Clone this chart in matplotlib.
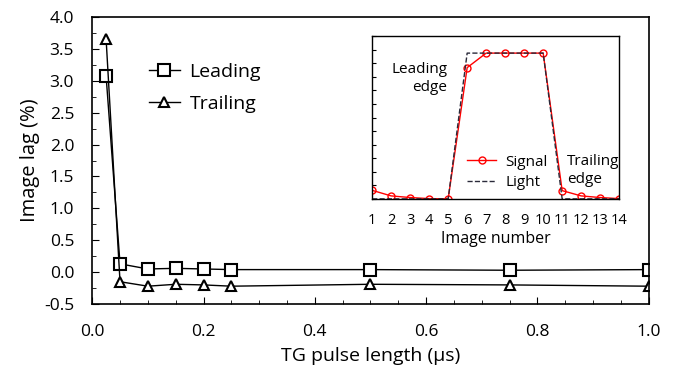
import matplotlib
matplotlib.use("Agg")
import matplotlib.pyplot as plt
from matplotlib.ticker import MultipleLocator

plt.rcParams['font.family'] = ['Open Sans', 'DejaVu Sans']

pulse_us = [0.025, 0.05, 0.1, 0.15, 0.2, 0.25, 0.5, 0.75, 1.0]
leading = [3.07, 0.13, 0.05, 0.06, 0.05, 0.04, 0.04, 0.03, 0.04]
trailing = [3.65, -0.15, -0.22, -0.19, -0.20, -0.22, -0.19, -0.20, -0.22]

image_num = list(range(1, 15))
signal = [0.063, 0.022, 0.010, 0.002, 0.0, 0.968, 1.075, 1.075, 1.075, 1.075, 0.061, 0.022, 0.010, 0.002]
light = [0, 0, 0, 0, 0, 1.075, 1.075, 1.075, 1.075, 1.075, 0, 0, 0, 0]

fig = plt.figure(figsize=(6.73, 3.69), dpi=100)
ax = fig.add_axes([0.137, 0.176, 0.827, 0.778])

ax.plot(pulse_us, leading, '-s', color='black', lw=1, ms=8, mfc='white', mec='black', mew=1.5, label='Leading')
ax.plot(pulse_us, trailing, '-^', color='black', lw=1, ms=7, mfc='white', mec='black', mew=1.5, label='Trailing')
ax.set_xlim(0, 1.0)
ax.set_ylim(-0.5, 4.0)
ax.xaxis.set_major_locator(MultipleLocator(0.2))
ax.xaxis.set_minor_locator(MultipleLocator(0.05))
ax.yaxis.set_major_locator(MultipleLocator(0.5))
ax.yaxis.set_minor_locator(MultipleLocator(0.25))
ax.xaxis.set_major_formatter(matplotlib.ticker.FormatStrFormatter('%.1f'))
ax.yaxis.set_major_formatter(matplotlib.ticker.FormatStrFormatter('%.1f'))
ax.tick_params(which='both', direction='in', labelsize=12.5, top=False, right=False)
ax.tick_params(which='major', length=5)
ax.tick_params(which='minor', length=3)
ax.tick_params(axis='x', pad=14.5)
ax.tick_params(axis='y', pad=13)
ax.set_xlabel('TG pulse length (μs)', fontsize=14, labelpad=5)
ax.set_ylabel('Image lag (%)', fontsize=14.5, labelpad=3)
for s in ax.spines.values():
    s.set_linewidth(1.2)
ax.legend(loc='upper left', bbox_to_anchor=(0.07, 0.9), frameon=False, fontsize=14,
          handlelength=1.6, handletextpad=0.5, labelspacing=0.7)

ins = fig.add_axes([0.553, 0.461, 0.367, 0.441])
ins.plot(image_num, signal, '-o', color='red', lw=1, ms=5, mfc='none', mec='red', mew=1, label='Signal')
ins.plot(image_num, light, '--', color='#2a2a3a', lw=1, label='Light')
ins.set_xlim(1, 14)
ins.set_ylim(0, 1.2)
ins.set_xticks(image_num)
ins.yaxis.set_major_locator(MultipleLocator(0.1))
ins.set_yticklabels([])
ins.tick_params(axis='y', direction='in', length=3)
ins.tick_params(axis='x', length=0, labelsize=10.5, pad=10)
ins.set_xlabel('Image number', fontsize=11.5, labelpad=2)
ins.text(4.95, 0.89, 'Leading\nedge', ha='right', va='center', fontsize=11, linespacing=1.3)
ins.text(11.26, 0.21, 'Trailing\nedge', ha='left', va='center', fontsize=11, linespacing=1.3)
ins.legend(loc='lower left', bbox_to_anchor=(0.33, -0.03), frameon=False, fontsize=11,
           handlelength=1.9, handletextpad=0.6, labelspacing=0.35)
for s in ins.spines.values():
    s.set_linewidth(1)

fig.savefig('out.png', dpi=100)
